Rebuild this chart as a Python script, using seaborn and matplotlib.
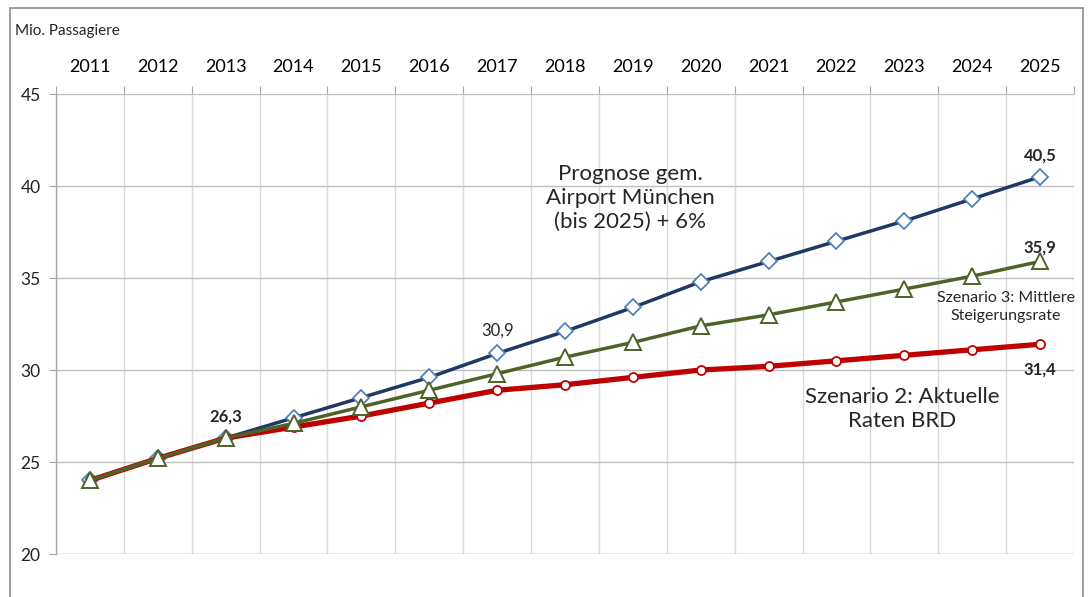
import numpy as np
import matplotlib
matplotlib.use("Agg")
import matplotlib.pyplot as plt
import seaborn as sns
from matplotlib.patches import Rectangle
from matplotlib.ticker import FixedLocator

# --- data (Mio. Passagiere) ---
years = ["2011", "2012", "2013", "2014", "2015", "2016", "2017", "2018",
         "2019", "2020", "2021", "2022", "2023", "2024", "2025"]
prognose = [24.0, 25.2, 26.3, 27.4, 28.5, 29.6, 30.9, 32.1, 33.4, 34.8,
            35.9, 37.0, 38.1, 39.3, 40.5]
szenario2 = [24.0, 25.2, 26.3, 26.9, 27.5, 28.2, 28.9, 29.2, 29.6, 30.0,
             30.2, 30.5, 30.8, 31.1, 31.4]
szenario3 = [24.0, 25.2, 26.3, 27.1, 28.0, 28.9, 29.8, 30.7, 31.5, 32.4,
             33.0, 33.7, 34.4, 35.1, 35.9]
x = np.arange(len(years))

sns.set_style("white")
plt.rcParams["font.family"] = ["Lato", "DejaVu Sans"]

fig = plt.figure(figsize=(10.89, 5.97), dpi=100)
ax = fig.add_axes([0.0514, 0.072, 0.9348, 0.7705])

# Lines
sns.lineplot(x=x, y=prognose, ax=ax, color="#1f3864", linewidth=2.5,
             marker="D", markersize=8, markerfacecolor="white",
             markeredgecolor="#4f81bd", markeredgewidth=1.3, zorder=3)
sns.lineplot(x=x, y=szenario2, ax=ax, color="#c00000", linewidth=3.8,
             marker="o", markersize=6.5, markerfacecolor="white",
             markeredgecolor="#c00000", markeredgewidth=1.3, zorder=4)
sns.lineplot(x=x, y=szenario3, ax=ax, color="#4f6228", linewidth=2.5,
             marker="^", markersize=11, markerfacecolor="white",
             markeredgecolor="#4f6228", markeredgewidth=1.4, zorder=5)

# Axes setup
ax.set_xlim(-0.5, len(years) - 0.5)
ax.set_ylim(20, 45)
ax.set_yticks([20, 25, 30, 35, 40, 45])
ax.set_xticks(x)
ax.set_xticklabels(years)
ax.xaxis.set_minor_locator(FixedLocator(np.arange(-0.5, len(years), 1.0)))
ax.xaxis.tick_top()
ax.tick_params(axis="x", which="major", length=0, pad=14, labelsize=13,
               labelcolor="black")
ax.tick_params(axis="x", which="minor", top=True, bottom=False, length=6,
               width=0.8, color="#a6a6a6", direction="out")
ax.tick_params(axis="y", which="major", left=True, length=5, width=0.8,
               color="#a6a6a6", direction="out", pad=6, labelsize=12.5,
               labelcolor="#222222")

ax.grid(False)
ax.yaxis.grid(True, color="#bfbfbf", linewidth=1.0)
ax.xaxis.grid(True, which="minor", color="#d9d9d9", linewidth=1.0)
ax.set_axisbelow(True)
for s in ["top", "right", "bottom"]:
    ax.spines[s].set_visible(False)
ax.spines["left"].set_color("#a6a6a6")
ax.spines["left"].set_linewidth(1.0)
ax.axhline(20, color="#bfbfbf", linewidth=1.0, zorder=1)
ax.set_xlabel("")
ax.set_ylabel("")

# Annotations
ax.text(2, 27.45, "26,3", ha="center", va="center", fontsize=12,
        fontweight="bold")
ax.text(6, 32.12, "30,9", ha="center", va="center", fontsize=12)
ax.text(14, 41.68, "40,5", ha="center", va="center", fontsize=12,
        fontweight="bold")
ax.text(14, 36.68, "35,9", ha="center", va="center", fontsize=12,
        fontweight="bold")
ax.text(14, 30.05, "31,4", ha="center", va="center", fontsize=12,
        fontweight="bold")
ax.text(7.96, 39.35, "Prognose gem.\nAirport München\n(bis 2025) + 6%",
        ha="center", va="center", fontsize=16, linespacing=1.22)
ax.text(13.5, 33.42, "Szenario 3: Mittlere\nSteigerungsrate",
        ha="center", va="center", fontsize=11.5, linespacing=1.3)
ax.text(11.97, 27.88, "Szenario 2: Aktuelle\nRaten BRD",
        ha="center", va="center", fontsize=16, linespacing=1.22)

fig.text(15 / 1089, 1 - 31 / 597, "Mio. Passagiere", ha="left", va="center",
         fontsize=11)

# Figure border
fig.patches.append(Rectangle((10 / 1089, -0.05), 1073 / 1089, 1.05 - 8 / 597,
                             transform=fig.transFigure, fill=False,
                             edgecolor="#8c8c8c", linewidth=1.2))

fig.savefig("out.png", dpi=100)
